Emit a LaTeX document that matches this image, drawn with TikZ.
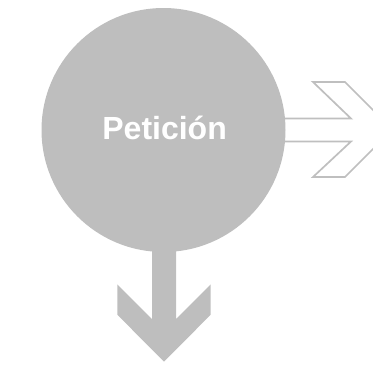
\documentclass[tikz,border=0pt]{standalone}
\usepackage{fontspec}
\setmainfont{Liberation Sans}
\definecolor{circgray}{HTML}{BEBEBE}
\definecolor{linegray}{HTML}{BFBFBF}
\begin{document}
\begin{tikzpicture}[x=1pt,y=-1pt,
  gfill/.style={fill=circgray,draw=none},
  outl/.style={draw=linegray,line width=1.7pt,line join=miter,fill=white},
  lbl/.style={text=white,font=\bfseries\fontsize{32}{32}\selectfont,inner sep=0pt,anchor=base}]
\useasboundingbox (0,0) rectangle (373,365);
\clip (0,0) rectangle (373,365);
\draw[outl] (280,118.5) -- (351,118.5) -- (313,82) -- (345,82) -- (392.5,129.5) -- (345,177) -- (313,177) -- (351,141.5) -- (280,141.5);
\fill[gfill] (152,240) -- (152,319) -- (117.3,284.3) -- (117.3,314.7) -- (164,361.7) -- (210.7,314.7) -- (210.7,284.3) -- (176,319) -- (176,240) -- cycle;
\node[circle,gfill,minimum size=244pt,inner sep=0pt] (pet) at (163.5,130) {};
\node[lbl] (txt) at (164.6,139.3) {Petición};
\end{tikzpicture}
\end{document}
